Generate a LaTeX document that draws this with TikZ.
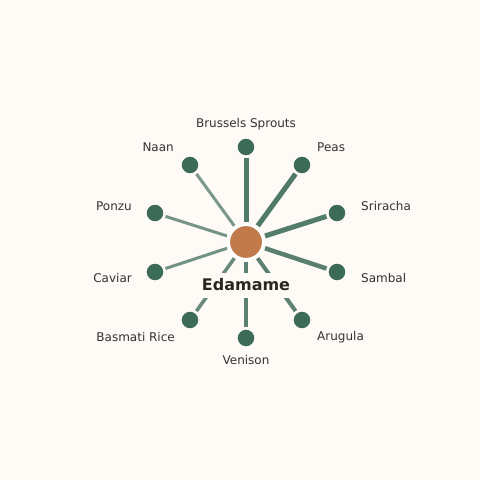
\documentclass[tikz,border=0pt]{standalone}
\usepackage{fontspec}
\setmainfont{DejaVu Sans}
\definecolor{bg}{HTML}{FEFAF6}
\definecolor{leaf}{HTML}{3D6B5A}
\definecolor{hub}{HTML}{C17A4A}
\definecolor{txt}{HTML}{333333}
\definecolor{title}{HTML}{2A2622}
\begin{document}
\begin{tikzpicture}[x=1pt,y=-1pt,
  leafnode/.style={circle,fill=leaf,draw=bg,line width=1.2pt,minimum size=18pt,inner sep=0pt},
  hubnode/.style={circle,fill=hub,draw=white,line width=2pt,minimum size=34pt,inner sep=0pt},
  spoke/.style={draw=leaf,shorten <=20pt,shorten >=11pt},
  lbl/.style={text=txt,font=\fontsize{12}{14}\selectfont,inner sep=0pt},
  ttl/.style={text=title,font=\fontsize{16}{18}\selectfont\bfseries,fill=bg,inner xsep=4pt,minimum height=25pt}]
\useasboundingbox[fill=bg] (0,0) rectangle (480,480);
\node[hubnode] (c) at (246,242) {};
\node[leafnode] (n1) at (246,147) {};
\node[leafnode] (n2) at (302,165) {};
\node[leafnode] (n3) at (337,213) {};
\node[leafnode] (n4) at (337,272) {};
\node[leafnode] (n5) at (302,320) {};
\node[leafnode] (n6) at (246,338) {};
\node[leafnode] (n7) at (190,320) {};
\node[leafnode] (n8) at (155,272) {};
\node[leafnode] (n9) at (155,213) {};
\node[leafnode] (n10) at (190,165) {};
\draw[spoke,line width=5pt,draw opacity=0.9] (c.center) -- (n1.center);
\draw[spoke,line width=5pt,draw opacity=0.9] (c.center) -- (n2.center);
\draw[spoke,line width=5pt,draw opacity=0.88] (c.center) -- (n3.center);
\draw[spoke,line width=4.5pt,draw opacity=0.86] (c.center) -- (n4.center);
\draw[spoke,line width=4pt,draw opacity=0.84] (c.center) -- (n5.center);
\draw[spoke,line width=4pt,draw opacity=0.84] (c.center) -- (n6.center);
\draw[spoke,line width=3.5pt,draw opacity=0.78] (c.center) -- (n7.center);
\draw[spoke,line width=3pt,draw opacity=0.72] (c.center) -- (n8.center);
\draw[spoke,line width=3pt,draw opacity=0.7] (c.center) -- (n9.center);
\draw[spoke,line width=3pt,draw opacity=0.68] (c.center) -- (n10.center);
\node[ttl] (t) at (246,285) {Edamame};
\node[lbl] (l1) at (246,124) {Brussels Sprouts};
\node[lbl,anchor=west] (l2) at (317,147) {Peas};
\node[lbl,anchor=west] (l3) at (361,206) {Sriracha};
\node[lbl,anchor=west] (l4) at (361,278) {Sambal};
\node[lbl,anchor=west] (l5) at (317,337) {Arugula};
\node[lbl] (l6) at (246,360) {Venison};
\node[lbl,anchor=east] (l7) at (175,337) {Basmati Rice};
\node[lbl,anchor=east] (l8) at (132,278) {Caviar};
\node[lbl,anchor=east] (l9) at (132,206) {Ponzu};
\node[lbl,anchor=east] (l10) at (174,147) {Naan};
\end{tikzpicture}
\end{document}
